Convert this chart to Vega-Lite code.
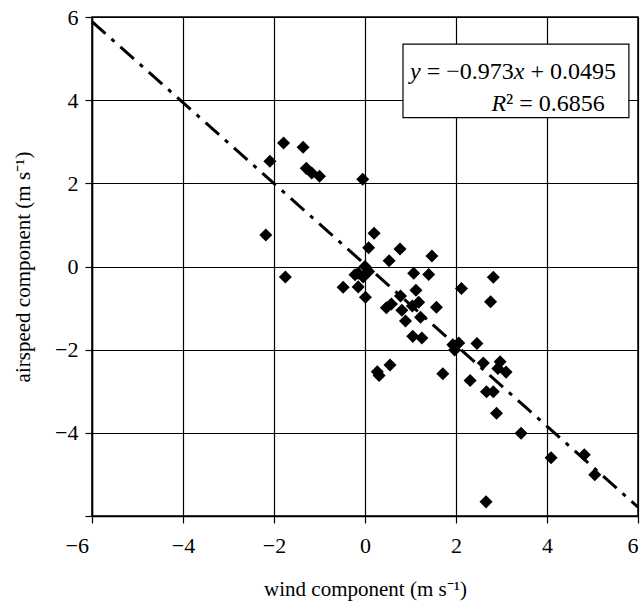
{
  "$schema": "https://vega.github.io/schema/vega-lite/v6.json",
  "autosize": "none",
  "width": 546,
  "height": 499,
  "padding": {"left": 92, "top": 17, "right": 3, "bottom": 88},
  "background": "white",
  "config": {
    "font": "Liberation Serif",
    "view": {"stroke": "black", "strokeWidth": 1.5},
    "axis": {
      "grid": true,
      "gridColor": "black",
      "gridWidth": 1.2,
      "gridOpacity": 1,
      "domainColor": "black",
      "domainWidth": 1.5,
      "tickColor": "black",
      "tickWidth": 1.2,
      "tickSize": 7,
      "labelFont": "Liberation Serif",
      "labelFontSize": 22,
      "labelColor": "black",
      "titleFont": "Liberation Serif",
      "titleFontSize": 21,
      "titleFontWeight": "normal",
      "titleColor": "black"
    }
  },
  "datasets": {
    "points": [
      {"wind": -2.18, "airspeed": 0.76},
      {"wind": -2.09, "airspeed": 2.53},
      {"wind": -1.79, "airspeed": 2.97},
      {"wind": -1.75, "airspeed": -0.25},
      {"wind": -1.36, "airspeed": 2.87},
      {"wind": -1.29, "airspeed": 2.36},
      {"wind": -1.17, "airspeed": 2.25},
      {"wind": -1.0, "airspeed": 2.17},
      {"wind": -0.05, "airspeed": 2.1},
      {"wind": 0.2, "airspeed": 0.8},
      {"wind": 0.08, "airspeed": 0.45},
      {"wind": 0.77, "airspeed": 0.42},
      {"wind": 0.53, "airspeed": 0.14},
      {"wind": 1.47, "airspeed": 0.25},
      {"wind": 0.0, "airspeed": 0.0},
      {"wind": -0.15, "airspeed": -0.16},
      {"wind": 0.08, "airspeed": -0.12},
      {"wind": -0.04, "airspeed": -0.25},
      {"wind": -0.22, "airspeed": -0.2},
      {"wind": 1.07, "airspeed": -0.16},
      {"wind": 1.4, "airspeed": -0.19},
      {"wind": -0.48, "airspeed": -0.5},
      {"wind": -0.15, "airspeed": -0.49},
      {"wind": 0.01, "airspeed": -0.74},
      {"wind": 1.12, "airspeed": -0.57},
      {"wind": 2.12, "airspeed": -0.53},
      {"wind": 0.78, "airspeed": -0.71},
      {"wind": 1.18, "airspeed": -0.86},
      {"wind": 1.04, "airspeed": -0.95},
      {"wind": 1.57, "airspeed": -0.98},
      {"wind": 0.47, "airspeed": -0.99},
      {"wind": 0.58, "airspeed": -0.9},
      {"wind": 0.81, "airspeed": -1.05},
      {"wind": 0.89, "airspeed": -1.31},
      {"wind": 1.22, "airspeed": -1.22},
      {"wind": 1.05, "airspeed": -1.68},
      {"wind": 1.25, "airspeed": -1.72},
      {"wind": 1.93, "airspeed": -1.88},
      {"wind": 2.06, "airspeed": -1.84},
      {"wind": 1.97, "airspeed": -2.01},
      {"wind": 2.46, "airspeed": -1.85},
      {"wind": 2.76, "airspeed": -0.85},
      {"wind": 2.82, "airspeed": -0.26},
      {"wind": 0.27, "airspeed": -2.53},
      {"wind": 0.31, "airspeed": -2.62},
      {"wind": 0.55, "airspeed": -2.37},
      {"wind": 1.71, "airspeed": -2.58},
      {"wind": 2.31, "airspeed": -2.74},
      {"wind": 2.6, "airspeed": -2.32},
      {"wind": 2.97, "airspeed": -2.29},
      {"wind": 2.92, "airspeed": -2.45},
      {"wind": 3.1, "airspeed": -2.54},
      {"wind": 2.67, "airspeed": -3.01},
      {"wind": 2.82, "airspeed": -3.01},
      {"wind": 2.89, "airspeed": -3.53},
      {"wind": 3.43, "airspeed": -4.01},
      {"wind": 4.09, "airspeed": -4.6},
      {"wind": 4.82, "airspeed": -4.53},
      {"wind": 5.05, "airspeed": -5.01},
      {"wind": 2.66, "airspeed": -5.66}
    ],
    "trend": [
      {"wind": -6, "airspeed": 5.8875},
      {"wind": 6, "airspeed": -5.7885}
    ],
    "box": [
      {"x1": 0.835, "x2": 5.8, "y1": 3.58, "y2": 5.35}
    ],
    "italicParts": [
      {"wind": 0.99, "airspeed": 4.5, "label": "y"},
      {"wind": 3.27, "airspeed": 4.5, "label": "x"},
      {"wind": 2.78, "airspeed": 3.75, "label": "R"}
    ],
    "regularParts": [
      {"wind": 1.356, "airspeed": 4.5, "label": "= −0.973"},
      {"wind": 3.637, "airspeed": 4.5, "label": "+ 0.0495"},
      {"wind": 3.1, "airspeed": 3.75, "label": "² = 0.6856"}
    ]
  },
  "layer": [
    {
      "data": {"name": "trend"},
      "mark": {"type": "line", "color": "black", "strokeWidth": 3, "strokeDash": [18, 8, 4, 8], "strokeCap": "butt"},
      "encoding": {
        "x": {"field": "wind", "type": "quantitative",
          "scale": {"domain": [-6, 6], "nice": false, "zero": false},
          "axis": {"values": [-6, -4, -2, 0, 2, 4, 6], "title": "wind component (m s⁻¹)", "labelPadding": 12, "titlePadding": 22,
            "labelOffset": {"condition": {"test": "datum.value == -6", "value": -27}, "value": 0}}},
        "y": {"field": "airspeed", "type": "quantitative",
          "scale": {"domain": [-6, 6], "nice": false, "zero": false},
          "axis": {"values": [-6, -4, -2, 0, 2, 4, 6], "title": "airspeed component (m s⁻¹)", "labelPadding": 7, "titlePadding": 21,
            "labelExpr": "datum.value == -6 ? '' : datum.label"}}
      }
    },
    {
      "data": {"name": "points"},
      "mark": {"type": "point", "shape": "diamond", "filled": true, "color": "black", "size": 170, "opacity": 1},
      "encoding": {
        "x": {"field": "wind", "type": "quantitative"},
        "y": {"field": "airspeed", "type": "quantitative"}
      }
    },
    {
      "data": {"name": "box"},
      "mark": {"type": "rect", "fill": "white", "stroke": "black", "strokeWidth": 1.2},
      "encoding": {
        "x": {"field": "x1", "type": "quantitative"},
        "x2": {"field": "x2"},
        "y": {"field": "y1", "type": "quantitative"},
        "y2": {"field": "y2"}
      }
    },
    {
      "data": {"name": "italicParts"},
      "mark": {"type": "text", "font": "Liberation Serif", "fontSize": 24, "fontStyle": "italic", "color": "black", "align": "left", "baseline": "alphabetic"},
      "encoding": {
        "x": {"field": "wind", "type": "quantitative"},
        "y": {"field": "airspeed", "type": "quantitative"},
        "text": {"field": "label"}
      }
    },
    {
      "data": {"name": "regularParts"},
      "mark": {"type": "text", "font": "Liberation Serif", "fontSize": 24, "color": "black", "align": "left", "baseline": "alphabetic"},
      "encoding": {
        "x": {"field": "wind", "type": "quantitative"},
        "y": {"field": "airspeed", "type": "quantitative"},
        "text": {"field": "label"}
      }
    }
  ]
}
